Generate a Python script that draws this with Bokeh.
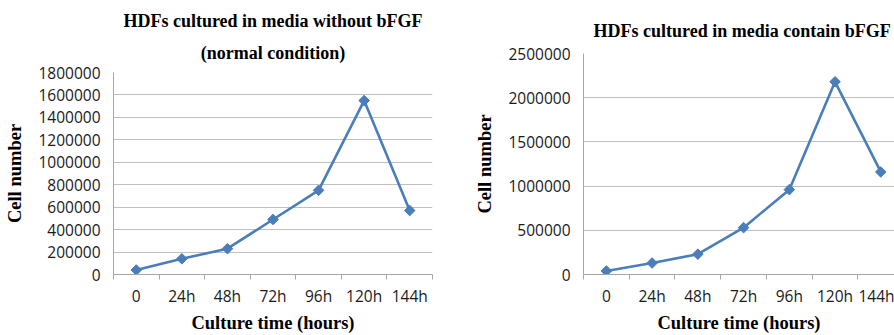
import math
from bokeh.plotting import figure
from bokeh.layouts import row, column
from bokeh.models import Range1d, FixedTicker, Title, Spacer
from bokeh.embed import file_html
from bokeh.resources import INLINE

# Culture time points (categories) and cell counts
times = ["0", "24h", "48h", "72h", "96h", "120h", "144h"]
cells_without_bfgf = [40000, 140000, 230000, 490000, 750000, 1550000, 570000]
cells_with_bfgf = [40000, 130000, 230000, 530000, 960000, 2180000, 1160000]
y_ticks_left = [0, 200000, 400000, 600000, 800000, 1000000, 1200000,
                1400000, 1600000, 1800000]
y_ticks_right = [0, 500000, 1000000, 1500000, 2000000, 2500000]

LINE = "#4a7ebb"
GRID = "#bfbfbf"
AXIS = "#a6a6a6"
SERIF = "Liberation Serif"
SANS = "Open Sans"

xc = [i + 0.5 for i in range(len(times))]


def title(text, align, offset, standoff):
    return Title(text=text, align=align, offset=offset, standoff=standoff,
                 text_font=SERIF, text_font_style="bold",
                 text_font_size="18px", text_color="black")


def make_panel(width, height, values, y_end, y_ticks, x_end,
               border_left, border_top, border_right):
    p = figure(width=width, height=height, output_backend="svg",
               toolbar_location=None,
               x_range=Range1d(0, x_end), y_range=Range1d(0, y_end),
               min_border_left=border_left, min_border_top=border_top,
               min_border_bottom=61, min_border_right=border_right)
    p.outline_line_color = None
    p.background_fill_color = "white"

    # x axis: labels centred on categories, tick marks between them
    p.xaxis.ticker = FixedTicker(ticks=xc, minor_ticks=list(range(len(times) + 1)))
    p.xaxis.major_label_overrides = {x: t for x, t in zip(xc, times)}
    p.xaxis.major_tick_line_color = None
    p.xaxis.major_tick_out = 0
    p.xaxis.major_tick_in = 0
    p.xaxis.minor_tick_line_color = AXIS
    p.xaxis.minor_tick_out = 5
    p.xaxis.minor_tick_in = 0
    p.xaxis.axis_line_color = AXIS
    p.xaxis.major_label_standoff = 5
    p.xaxis.axis_label = "Culture time (hours)"
    p.xaxis.axis_label_standoff = 3
    p.xgrid.grid_line_color = None

    # y axis
    p.yaxis.ticker = FixedTicker(ticks=y_ticks)
    p.yaxis.major_label_overrides = {v: str(v) for v in y_ticks}
    p.yaxis.major_tick_line_color = None
    p.yaxis.major_tick_out = 0
    p.yaxis.major_tick_in = 0
    p.yaxis.minor_tick_line_color = None
    p.yaxis.axis_line_color = AXIS
    p.yaxis.major_label_standoff = 13
    p.yaxis.axis_label = "Cell number"
    p.yaxis.axis_label_standoff = 10
    p.ygrid.ticker = FixedTicker(ticks=y_ticks)
    p.ygrid.grid_line_color = GRID
    p.ygrid.grid_line_width = 1.2

    for ax in (p.xaxis, p.yaxis):
        ax.major_label_text_font = SANS
        ax.major_label_text_font_size = "15.5px"
        ax.major_label_text_color = "#1a1a1a"
        ax.axis_label_text_font = SERIF
        ax.axis_label_text_font_style = "bold"
        ax.axis_label_text_font_size = "18.5px"
        ax.axis_label_text_color = "black"

    p.line(xc, values, line_color=LINE, line_width=2.6)
    # diamond markers: squares turned by 45 degrees
    p.scatter(xc, values, marker="square", size=7.5, angle=math.pi / 4,
              fill_color=LINE, line_color=LINE)
    return p


left = make_panel(450, 335, cells_without_bfgf, 1800000, y_ticks_left, 7,
                  113, 72, 18)
left.add_layout(title("(normal condition)", "center", 4, 20), "above")
left.add_layout(title("HDFs cultured in media without bFGF", "center", 4, 0), "above")

# Right chart: its frame starts higher than the left one
right = make_panel(444, 334, cells_with_bfgf, 2500000, y_ticks_right, 6.8,
                   133, 52, 0)
right.add_layout(title("HDFs cultured in media contain bFGF", "left", 10, 26), "above")

layout = row(column(left), column(Spacer(width=444, height=1), right, spacing=0),
             spacing=0)
open("out.html", "w").write(file_html(layout, INLINE))
